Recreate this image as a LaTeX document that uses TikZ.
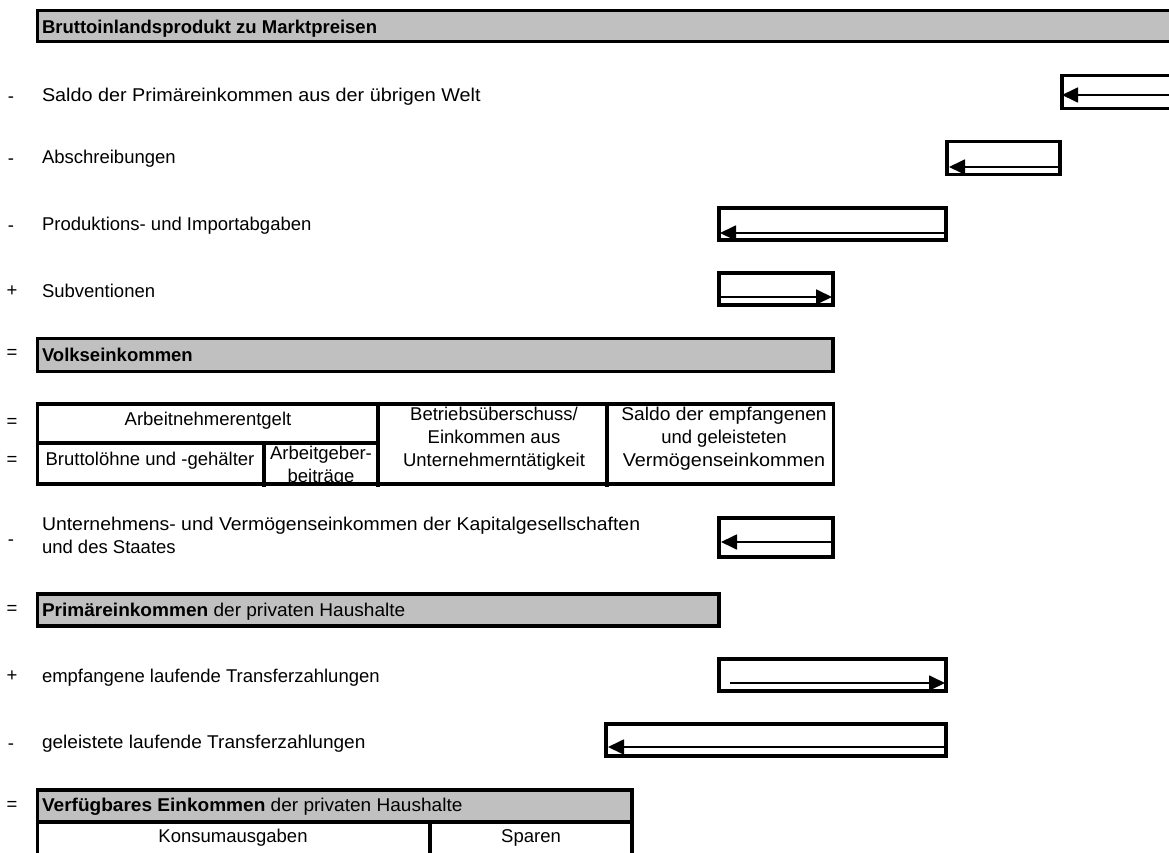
\documentclass[tikz,border=0pt]{standalone}
\usepackage{fontspec}
\setmainfont{Liberation Sans}
\usetikzlibrary{arrows.meta}
\definecolor{boxgray}{HTML}{C0C0C0}
\begin{document}
\begin{tikzpicture}[x=1pt,y=-1pt,
  every node/.style={font=\fontsize{18.5}{23}\selectfont, inner sep=0pt, outer sep=0pt},
  frame/.style={draw=black, line width=3.2pt, rectangle, anchor=north west},
  graybox/.style={frame, fill=boxgray},
  lbl/.style={anchor=west, text height=13.2pt, text depth=0pt},
  sym/.style={anchor=center},
  arr/.style={line width=1.8pt, -{Triangle[length=16pt,width=15pt]}},
  cell/.style={align=center, anchor=center},
  rule/.style={line width=3.2pt}
]
\useasboundingbox (0,0) rectangle (1169,853);
\clip (0,0) rectangle (1169,853);

% --- Bruttoinlandsprodukt
\node[graybox, minimum width=1150pt, minimum height=31pt] (bip) at (37.5,10.5) {};
\node[lbl] (tbip) at (42,27) {\textbf{Bruttoinlandsprodukt zu Marktpreisen}};

% --- Saldo Primaereinkommen
\node[sym] (s1) at (11,100) {-};
\node[lbl] (t1) at (42,95) {\scalebox{1.07}[1]{Saldo der Primäreinkommen aus der übrigen Welt}};
\node[frame, minimum width=120pt, minimum height=33pt] (b1) at (1062,75.5) {};
\coordinate (a1s) at (1175,95);
\coordinate (a1e) at (1062,95);
\draw[arr] (a1s) -- (a1e);

% --- Abschreibungen
\node[sym] (s2) at (11,162) {-};
\node[lbl] (t2) at (42,157) {Abschreibungen};
\node[frame, minimum width=113pt, minimum height=33pt] (b2) at (947,141.5) {};
\coordinate (a2s) at (1060,167);
\coordinate (a2e) at (949,167);
\draw[arr] (a2s) -- (a2e);

% --- Produktions- und Importabgaben
\node[sym] (s3) at (11,229) {-};
\node[lbl] (t3) at (42,224) {Produktions- und Importabgaben};
\node[frame, minimum width=227pt, minimum height=32pt] (b3) at (719,208) {};
\coordinate (a3s) at (946,233);
\coordinate (a3e) at (720,233);
\draw[arr] (a3s) -- (a3e);

% --- Subventionen
\node[sym] (s4) at (12,291) {+};
\node[lbl] (t4) at (42,291) {Subventionen};
\node[frame, minimum width=114pt, minimum height=32pt] (b4) at (719,273) {};
\coordinate (a4s) at (717,297);
\coordinate (a4e) at (832,297);
\draw[arr] (a4s) -- (a4e);

% --- Volkseinkommen
\node[sym] (s5) at (12,354) {=};
\node[graybox, minimum width=795.5pt, minimum height=33pt] (b5) at (37.5,338.5) {};
\node[lbl] (t5) at (42,355) {\textbf{Volkseinkommen}};

% --- Tabelle
\node[sym] (s6) at (12,423) {=};
\node[sym] (s7) at (12,461) {=};
\node[frame, minimum width=796pt, minimum height=80pt] (tab) at (37.5,404) {};
\coordinate (h1a) at (37.5,443);
\coordinate (h1b) at (378,443);
\coordinate (v1a) at (378,404);
\coordinate (v1b) at (378,487);
\coordinate (v2a) at (607,404);
\coordinate (v2b) at (607,487);
\coordinate (v3a) at (264,443);
\coordinate (v3b) at (264,487);
\node[cell] (c1) at (208,421) {Arbeitnehmerentgelt};
\node[cell] (c2) at (150,461) {Bruttolöhne und -gehälter};
\begin{scope}
  \clip (264,443) rectangle (378,483);
  \node[cell] (c3) at (321,466) {Arbeitgeber-\\beiträge};
\end{scope}
\node[cell] (c4) at (494,439) {Betriebsüberschuss/\\Einkommen aus\\Unternehmerntätigkeit};
\node[cell] (c5) at (724,439) {\scalebox{1.04}[1]{Saldo der empfangenen}\\und geleisteten\\\scalebox{1.07}[1]{Vermögenseinkommen}};
\draw[rule] (h1a) -- (h1b);
\draw[rule] (v1a) -- (v1b);
\draw[rule] (v2a) -- (v2b);
\draw[rule] (v3a) -- (v3b);

% --- Unternehmens- und Vermoegenseinkommen
\node[sym] (s8) at (11,543) {-};
\node[anchor=north west, align=left] (t8) at (42,517) {\scalebox{1.05}[1]{Unternehmens- und Vermögenseinkommen der Kapitalgesellschaften}\\und des Staates};
\node[frame, minimum width=114pt, minimum height=39pt] (b8) at (719,518) {};
\coordinate (a8s) at (833,542);
\coordinate (a8e) at (721,542);
\draw[arr] (a8s) -- (a8e);

% --- Primaereinkommen
\node[sym] (s9) at (12,610) {=};
\node[graybox, minimum width=681.5pt, minimum height=32pt] (b9) at (37.5,594) {};
\node[lbl] (t9) at (42,610) {\scalebox{1.03}[1]{\textbf{Primäreinkommen} der privaten Haushalte}};

% --- empfangene
\node[sym] (s10) at (12,676) {+};
\node[lbl] (t10) at (42,676) {empfangene laufende Transferzahlungen};
\node[frame, minimum width=227pt, minimum height=32pt] (b10) at (719,659) {};
\coordinate (a10s) at (730,683);
\coordinate (a10e) at (945,683);
\draw[arr] (a10s) -- (a10e);

% --- geleistete
\node[sym] (s11) at (11,747) {-};
\node[lbl] (t11) at (42,742) {\scalebox{1.03}[1]{geleistete laufende Transferzahlungen}};
\node[frame, minimum width=340pt, minimum height=32pt] (b11) at (606,724) {};
\coordinate (a11s) at (946,747);
\coordinate (a11e) at (608,747);
\draw[arr] (a11s) -- (a11e);

% --- Verfuegbares Einkommen
\node[sym] (s12) at (12,806) {=};
\node[graybox, minimum width=594.5pt, minimum height=32pt] (b12) at (37.5,790) {};
\node[lbl] (t12) at (42,805) {\scalebox{1.03}[1]{\textbf{Verfügbares Einkommen} der privaten Haushalte}};
\node[frame, minimum width=594.5pt, minimum height=40pt] (b13) at (37.5,822) {};
\coordinate (v4a) at (430,822);
\coordinate (v4b) at (430,860);
\draw[rule] (v4a) -- (v4b);
\node[cell] (c13) at (233,838) {Konsumausgaben};
\node[cell] (c14) at (531,838) {Sparen};
\end{tikzpicture}
\end{document}
